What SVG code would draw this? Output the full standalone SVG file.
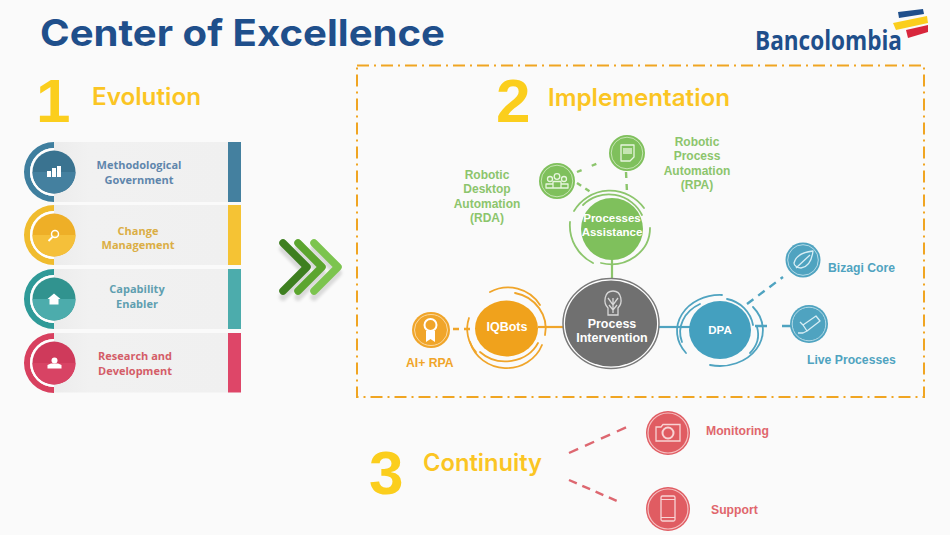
<svg xmlns="http://www.w3.org/2000/svg" width="950" height="535" viewBox="0 0 950 535">
<defs>
<linearGradient id="panel" x1="0" x2="1" y1="0" y2="0"><stop offset="0" stop-color="#ececec"/><stop offset="0.2" stop-color="#f1f1f1"/><stop offset="1" stop-color="#f0f0f0"/></linearGradient>
<filter id="soft" x="-20%" y="-20%" width="140%" height="140%"><feGaussianBlur stdDeviation="1.5"/></filter>
</defs>
<style>
text{font-family:"Liberation Sans",Arial,sans-serif;font-weight:700}
.title{font-family:Inter,"Liberation Sans",sans-serif;font-weight:700;font-size:37px;fill:#1f4f8b}
.num{font-family:"Liberation Sans",sans-serif;font-size:62px;fill:#fbce1d}
.head{font-family:Inter,"Liberation Sans",sans-serif;font-weight:600;font-size:24px;fill:#fbc523}
.row{font-family:"Open Sans","Liberation Sans",sans-serif;font-size:11px;text-anchor:middle}
.g{font-size:12px;fill:#8cc56c;text-anchor:middle}
.b{font-size:12.2px;fill:#4fa3c0}
.r{font-size:12.2px;fill:#e0666c}
.o{font-size:12.2px;fill:#f0a52a}
.in{font-size:12.5px;fill:#fff;text-anchor:middle}
.arc{fill:none;stroke-width:1.8;stroke-linecap:round}
.ic{fill:none;stroke-width:1.3;stroke-linejoin:round}
.dash{fill:none;stroke-width:2.4}
.solid{fill:none;stroke-width:2.2}
.chev{fill:none;stroke-width:7.5;stroke-linecap:round;stroke-linejoin:round}
</style>
<rect width="950" height="535" fill="#fafafa"/>
<g id="title"><text class="title" x="40" y="46" textLength="405" lengthAdjust="spacingAndGlyphs">Center of Excellence</text></g>
<g id="logo">
<text x="755" y="49.500" font-size="26" fill="#1f4f8b" textLength="147" lengthAdjust="spacingAndGlyphs" style="font-family:'Open Sans','Liberation Sans',sans-serif">Bancolombia</text>
<polygon points="898,12 923,9 924,14 899,18" fill="#1f4f8b"/>
<polygon points="893,23 927,16 928,23 896,30" fill="#fbce1d"/>
<polygon points="906,30 928,25 928,32 908,38" fill="#d8263c"/>
</g>
<g id="heading-1"><text class="num" x="36" y="122">1</text><text class="head" x="92" y="105" textLength="109" lengthAdjust="spacingAndGlyphs">Evolution</text></g>
<g id="heading-2"><text class="num" x="496" y="122">2</text><text class="head" x="548" y="106" textLength="182" lengthAdjust="spacingAndGlyphs">Implementation</text></g>
<g id="heading-3"><text class="num" x="369" y="494">3</text><text class="head" x="423" y="471" textLength="119" lengthAdjust="spacingAndGlyphs">Continuity</text></g>

<g id="row-methodological">
<path d="M54,142A30,30 0 0 0 54,202V196A24,24 0 0 1 54,148Z" fill="#3f7f9f"/>
<rect x="54" y="142" width="174" height="60" fill="url(#panel)"/><rect x="228" y="142" width="13" height="60" fill="#44809f"/>
<path d="M54,149A23,23 0 0 0 54,195" fill="none" stroke="#fff" stroke-width="2"/>
<circle cx="54" cy="172" r="21.5" fill="#3a7390"/><path d="M32.5,172A21.5,21.5 0 0 0 75.500,172Z" fill="#44809f"/>
<path d="M47,176h4v-6h-4zM52,176h4v-9h-4zM57,176h4v-11h-4z" fill="#fff" transform="translate(0,1)"/>
<text class="row" x="139" y="169" fill="#5f86ac">Methodological</text><text class="row" x="139" y="184" fill="#5f86ac">Government</text>
</g>
<g id="row-change">
<path d="M54,205A30,30 0 0 0 54,265V259A24,24 0 0 1 54,211Z" fill="#f0bc2e"/>
<rect x="54" y="205" width="174" height="60" fill="url(#panel)"/><rect x="228" y="205" width="13" height="60" fill="#f5c334"/>
<path d="M54,212A23,23 0 0 0 54,258" fill="none" stroke="#fff" stroke-width="2"/>
<circle cx="54" cy="235" r="21.5" fill="#eeaf27"/><path d="M32.5,235A21.5,21.500 0 0 0 75.500,235Z" fill="#f5c03a"/>
<circle cx="55" cy="234" r="3.500" fill="none" stroke="#fff" stroke-width="1.500"/><path d="M52.500,237L48.500,241" stroke="#fff" stroke-width="1.800"/>
<text class="row" x="138" y="235" fill="#dbae45">Change</text><text class="row" x="138" y="249" fill="#dbae45">Management</text>
</g>
<g id="row-capability">
<path d="M54,269A30,30 0 0 0 54,329V323A24,24 0 0 1 54,275Z" fill="#2f9a98"/>
<rect x="54" y="269" width="174" height="60" fill="url(#panel)"/><rect x="228" y="269" width="13" height="60" fill="#4cacac"/>
<path d="M54,276A23,23 0 0 0 54,322" fill="none" stroke="#fff" stroke-width="2"/>
<circle cx="54" cy="299" r="21.5" fill="#31938f"/><path d="M32.5,299A21.500,21.500 0 0 0 75.500,299Z" fill="#4cacac"/>
<path d="M47.500,299L54,293.500L60.500,299H58.500V304.500H49.500V299Z" fill="#fff"/>
<text class="row" x="137" y="293" fill="#5f9fb0">Capability</text><text class="row" x="137" y="308" fill="#5f9fb0">Enabler</text>
</g>
<g id="row-research">
<path d="M54,333A30,30 0 0 0 54,393V387A24,24 0 0 1 54,339Z" fill="#d8405f"/>
<rect x="54" y="333" width="174" height="59.500" fill="url(#panel)"/><rect x="228" y="333" width="13" height="59.500" fill="#de4668"/>
<path d="M54,340A23,23 0 0 0 54,386" fill="none" stroke="#fff" stroke-width="2"/>
<circle cx="54" cy="363" r="21.5" fill="#cf3a5b"/><path d="M32.5,363A21.500,21.500 0 0 0 75.500,363Z" fill="#d84364"/>
<circle cx="54.500" cy="360.500" r="3" fill="#fff"/><path d="M47.500,368.500V365L51,363.500H58L61.500,365V368.500Z" fill="#fff"/>
<text class="row" x="135" y="360" fill="#d45d68">Research and</text><text class="row" x="135" y="375" fill="#d45d68">Development</text>
</g>

<g id="chevrons">
<g filter="url(#soft)" opacity="0.25" transform="translate(0,6)"><path class="chev" stroke="#777" d="M283,243L307,267L283,291M298,243L322,267L298,291M314,243L338,267L314,291"/></g>
<path class="chev" stroke="#7cc44f" d="M314,243L338,267L314,291"/>
<path class="chev" stroke="#5ca52f" d="M298,243L322,267L298,291"/>
<path class="chev" stroke="#3e7f20" d="M283,243L307,267L283,291"/>
</g>

<g id="implementation-frame"><rect x="357" y="65.500" width="567" height="331.500" fill="none" stroke="#f0a522" stroke-width="2" stroke-dasharray="12 5 2 5"/></g>

<g id="connectors">
<path class="solid" stroke="#8cc56c" d="M612,258V280"/>
<path class="solid" stroke="#f0a52a" d="M538,327H564"/>
<path class="solid" stroke="#4fa3c0" d="M658,327H690"/>
<path class="dash" stroke="#f0a52a" stroke-dasharray="6 5" d="M453,329H475"/>
<path class="dash" stroke="#8cc56c" stroke-dasharray="5 11" d="M577,172L603,161"/>
<path class="dash" stroke="#8cc56c" stroke-dasharray="5 5" d="M577,183L592,193"/>
<path class="dash" stroke="#8cc56c" stroke-dasharray="6 6" d="M626,172L627,192"/>
<path class="dash" stroke="#4fa3c0" stroke-dasharray="8 6" d="M747,304L783,277"/>
<path class="dash" stroke="#4fa3c0" d="M755,326H767M782,326H792"/>
<path class="dash" stroke="#dd6770" stroke-dasharray="10 7.500" d="M569,453L627,427"/>
<path class="dash" stroke="#dd6770" stroke-dasharray="8.500 6" d="M569,480L617,501"/>
</g>

<g id="node-process-assistance">
<path class="arc" stroke="#8cc56c" d="M570,222A42,42 0 0 0 593,263"/><path class="arc" stroke="#8cc56c" d="M650,228A39,36 0 0 1 601,263"/><path class="arc" stroke="#8cc56c" d="M574,211A42,42 0 0 1 644,208"/><path class="arc" stroke="#8cc56c" d="M583,205A37,37 0 0 1 642,215"/>
<circle cx="612" cy="229" r="31" fill="#7fc05c"/>
<text class="in" x="612" y="222" style="font-size:11.500px">Processes</text><text class="in" x="612" y="236" style="font-size:11.500px">Assistance</text>
</g>
<g id="node-process-intervention">
<ellipse cx="611" cy="323.500" rx="48" ry="45" fill="#fff" stroke="#7a7a7a" stroke-width="1.500"/>
<ellipse cx="611" cy="323.500" rx="46" ry="43" fill="#707070"/>
<path d="M613,291C604,291 603,303 608,308V315H618V308C623,303 622,291 613,291Z" fill="none" stroke="#d8d8d8" stroke-width="1.300"/>
<path d="M613,298V313M608,298L613,305L618,298M609,305L613,310L617,305" fill="none" stroke="#d8d8d8" stroke-width="1.300"/>
<text class="in" x="612" y="328">Process</text><text class="in" x="612" y="342">Intervention</text>
</g>
<g id="node-iqbots">
<path class="arc" stroke="#f0a52a" d="M490,292A38,38 0 0 1 540,305"/><path class="arc" stroke="#f0a52a" d="M515,293A38,36 0 0 1 545,335"/><path class="arc" stroke="#f0a52a" d="M469,318A38,36 0 0 0 476,352"/><path class="arc" stroke="#f0a52a" d="M470,342A38,36 0 0 0 542,345"/><path class="arc" stroke="#f0a52a" d="M480,352A36,32 0 0 0 538,343"/>
<ellipse cx="506.500" cy="328.500" rx="31.500" ry="28" fill="#f0a21c"/>
<text class="in" x="507" y="331">IQBots</text>
</g>
<g id="node-dpa">
<path class="arc" stroke="#4fa3c0" d="M686,353A43,36 0 0 1 722,295"/><path class="arc" stroke="#4fa3c0" d="M682,342A38,32 0 0 1 700,304"/><path class="arc" stroke="#4fa3c0" d="M727,299A33,32 0 0 1 753,325"/><path class="arc" stroke="#4fa3c0" d="M753,307A43,36 0 0 1 710,365"/><path class="arc" stroke="#4fa3c0" d="M757,327A36,30 0 0 1 750,353"/>
<ellipse cx="720" cy="330" rx="31" ry="29" fill="#44a0bf"/>
<text class="in" x="720" y="334" style="font-size:11.500px">DPA</text>
</g>
<g id="node-ai-rpa">
<ellipse cx="431" cy="330" rx="19" ry="18" fill="#f0a52a"/><ellipse cx="431" cy="330" rx="16.500" ry="15.500" fill="none" stroke="#fbd9a0" stroke-width="1"/>
<circle cx="430.500" cy="325" r="6" fill="none" stroke="#fff" stroke-width="2"/><path d="M426,331V342L430.500,339L435,342V331Z" fill="#fff"/>
<text class="o" x="406" y="367">AI+ RPA</text>
</g>
<g id="node-rda">
<circle cx="557" cy="181" r="18" fill="#7fc05c"/><circle cx="557" cy="181" r="15.800" fill="none" stroke="#c5e5b2" stroke-width="1"/>
<g class="ic" stroke="#e7f5de"><circle cx="550" cy="179" r="2.500"/><circle cx="557" cy="176.500" r="2.800"/><circle cx="564" cy="179" r="2.500"/><path d="M546,188V184H553V188ZM553,188V181.500H561V188ZM561,188V184H568V188Z"/></g>
<text class="g" x="487" y="179">Robotic</text><text class="g" x="487" y="193">Desktop</text><text class="g" x="487" y="208">Automation</text><text class="g" x="487" y="222">(RDA)</text>
</g>
<g id="node-rpa">
<circle cx="627" cy="153" r="18" fill="#7fc05c"/><circle cx="627" cy="153" r="15.800" fill="none" stroke="#c5e5b2" stroke-width="1"/>
<path class="ic" stroke="#e7f5de" d="M621,145H634V157L630,161H621Z"/><rect x="623" y="148" width="9" height="6" fill="#c5e5b2"/>
<text class="g" x="697" y="146">Robotic</text><text class="g" x="697" y="160">Process</text><text class="g" x="697" y="175">Automation</text><text class="g" x="697" y="189">(RPA)</text>
</g>
<g id="node-bizagi">
<circle cx="803" cy="260" r="17.500" fill="#4fa3c0"/><circle cx="803" cy="260" r="15.300" fill="none" stroke="#b4dbe8" stroke-width="1"/>
<path class="ic" stroke="#d7edf4" d="M794,263C796,255 804,252 813,251C812,259 809,267 801,268C798,268 794,266 794,263ZM796,268L810,255"/>
<text class="b" x="828" y="272">Bizagi Core</text>
</g>
<g id="node-live-processes">
<circle cx="809" cy="324" r="19" fill="#4fa3c0"/><circle cx="809" cy="324" r="16.800" fill="none" stroke="#b4dbe8" stroke-width="1"/>
<path class="ic" stroke="#d7edf4" d="M803,325L816,316L820,321L807,331ZM803,325L800,322M807,331L803,333L798,333"/>
<text class="b" x="807" y="364">Live Processes</text>
</g>
<g id="node-monitoring">
<circle cx="668" cy="433" r="22" fill="#e05c62"/><circle cx="668" cy="433" r="20" fill="none" stroke="#f5c0c2" stroke-width="1.200"/>
<path d="M656,427H661L663,424.500H680V441H656Z" fill="none" stroke="#f8d3d4" stroke-width="1.300"/><circle cx="668" cy="433" r="5.500" fill="none" stroke="#f8d3d4" stroke-width="2"/>
<text class="r" x="706" y="435">Monitoring</text>
</g>
<g id="node-support">
<circle cx="668" cy="509" r="22" fill="#e05c62"/><circle cx="668" cy="509" r="20" fill="none" stroke="#f5c0c2" stroke-width="1.200"/>
<rect x="661" y="496" width="14" height="25" rx="1.500" fill="none" stroke="#f8d3d4" stroke-width="1.300"/><path d="M661,499.500H675M661,517.500H675" stroke="#f8d3d4" stroke-width="1"/>
<text class="r" x="711" y="514">Support</text>
</g>
</svg>
